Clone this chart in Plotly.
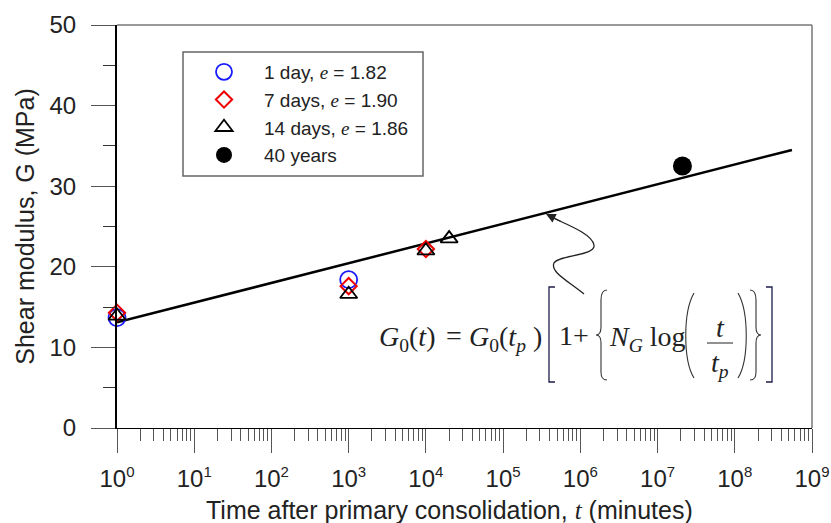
import plotly.graph_objects as go

# ---------------- data ----------------
t_1day = [1, 1000]
G_1day = [13.7, 18.4]
t_7days = [1, 1000, 10000]
G_7days = [14.3, 17.6, 22.2]
t_14days = [1, 1000, 10000, 20000]
G_14days = [13.9, 16.6, 22.0, 23.5]
t_40years = [2.1e7]
G_40years = [32.5]
fit_t = [1, 5.5e8]
fit_G = [13.1, 34.5]

x_exponents = list(range(0, 10))
x_tickvals = [10 ** k for k in x_exponents]
x_ticktext = [f"10<sup><span style='font-size:15px'>{k}</span></sup>" for k in x_exponents]
x_minor = [m * 10 ** k for k in range(0, 9) for m in range(2, 10)]
y_tickvals = [0, 10, 20, 30, 40, 50]

# ---------------- layout helpers (pixel -> paper) ----------------
FW, FH = 831, 523
L, R, T, B = 117, 812, 25, 428
W, H = R - L, B - T


def px(x):
    return (x - L) / W


def py(y):
    return (B - y) / H


def P(x, y):
    return f"{px(x):.5f},{py(y):.5f}"


def path(cmds):
    out = []
    for c in cmds:
        if isinstance(c, str):
            out.append(c)
        else:
            out.append(P(*c))
    return " ".join(out)


serif = "Liberation Serif"
sans = "Liberation Sans"
ital_e = f"<span style=\"font-family:'{serif}'\"><i>e</i></span>"

fig = go.Figure()

fig.add_trace(go.Scatter(x=fit_t, y=fit_G, mode="lines",
                         line=dict(color="black", width=2.5),
                         showlegend=False, hoverinfo="skip", cliponaxis=False))

fig.add_trace(go.Scatter(x=t_1day, y=G_1day, mode="markers",
                         name=f"1 day, {ital_e} = 1.82", legendgroup="a",
                         marker=dict(symbol="circle-open", size=17, color="#1a1aff",
                                     line=dict(width=1.8, color="#1a1aff")),
                         cliponaxis=False))
fig.add_trace(go.Scatter(x=t_7days, y=G_7days, mode="markers",
                         name=f"7 days, {ital_e} = 1.90", legendgroup="b",
                         marker=dict(symbol="diamond-open", size=12.5, color="#ee0000",
                                     line=dict(width=2, color="#ee0000")),
                         cliponaxis=False))
fig.add_trace(go.Scatter(x=t_14days, y=G_14days, mode="markers",
                         name=f"14 days, {ital_e} = 1.86", legendgroup="c",
                         marker=dict(symbol="triangle-up-open", size=15, color="black",
                                     line=dict(width=1.8, color="black")),
                         cliponaxis=False))
fig.add_trace(go.Scatter(x=t_40years, y=G_40years, mode="markers",
                         name="40 years", legendgroup="d",
                         marker=dict(symbol="circle", size=19, color="black"),
                         cliponaxis=False))

shapes = []
# top and right frame
shapes.append(dict(type="line", xref="paper", yref="paper", x0=0, x1=1, y0=1, y1=1,
                   line=dict(color="#777", width=1.5)))
shapes.append(dict(type="line", xref="paper", yref="paper", x0=1, x1=1, y0=0, y1=1,
                   line=dict(color="#777", width=1.5)))
# legend frame
shapes.append(dict(type="rect", xref="paper", yref="paper", x0=px(183), x1=px(423),
                   y0=py(176), y1=py(52), line=dict(color="#666", width=1.5),
                   fillcolor="white", layer="below"))

# wavy arrow shaft
shapes.append(dict(type="path", xref="paper", yref="paper",
                   path=path(["M", (584, 294), "C", (568, 281), (550, 272), (554, 263),
                              "C", (558, 255), (596, 256), (594, 245),
                              "C", (592, 234), (568, 225), (551, 217)]),
                   line=dict(color="#222", width=1.3)))

brk = dict(color="#1c1c4a", width=1.3)
# [ ]
shapes.append(dict(type="path", xref="paper", yref="paper",
                   path=path(["M", (555, 287), "L", (549, 287), "L", (549, 382), "L", (555, 382)]),
                   line=brk))
shapes.append(dict(type="path", xref="paper", yref="paper",
                   path=path(["M", (766, 287), "L", (772, 287), "L", (772, 382), "L", (766, 382)]),
                   line=brk))
# { }
shapes.append(dict(type="path", xref="paper", yref="paper",
                   path=path(["M", (607, 290), "C", (602, 290), (601, 294), (601, 300),
                              "L", (601, 327), "C", (601, 332), (599, 335), (596, 335),
                              "C", (599, 335), (601, 338), (601, 343),
                              "L", (601, 372), "C", (601, 377), (602, 380), (607, 380)]),
                   line=dict(color="#333", width=1.1)))
shapes.append(dict(type="path", xref="paper", yref="paper",
                   path=path(["M", (750, 290), "C", (755, 290), (756, 294), (756, 300),
                              "L", (756, 327), "C", (756, 332), (758, 335), (761, 335),
                              "C", (758, 335), (756, 338), (756, 343),
                              "L", (756, 372), "C", (756, 377), (755, 380), (750, 380)]),
                   line=dict(color="#333", width=1.1)))
# ( )
shapes.append(dict(type="path", xref="paper", yref="paper",
                   path=path(["M", (694, 293), "C", (683, 312), (683, 360), (694, 378)]),
                   line=dict(color="#333", width=1.1)))
shapes.append(dict(type="path", xref="paper", yref="paper",
                   path=path(["M", (738, 293), "C", (749, 312), (749, 360), (738, 378)]),
                   line=dict(color="#333", width=1.1)))
# fraction bar
shapes.append(dict(type="line", xref="paper", yref="paper",
                   x0=px(707), x1=px(733), y0=py(343), y1=py(343),
                   line=dict(color="#222", width=1)))

ff = dict(family=serif, size=28, color="#222")


def txt(x, y, s, anchor="left"):
    return dict(xref="paper", yref="paper", x=px(x), y=py(y), xanchor=anchor,
                yanchor="middle", showarrow=False, font=ff, text=s)


annotations = [
    txt(377, 338, "<i>G</i><sub>0</sub>(<i>t</i>)"),
    txt(444, 335, "="),
    txt(467, 338, "<i>G</i><sub>0</sub>(<i>t</i><sub><i>p</i></sub> )"),
    txt(557, 335, "1+"),
    txt(607, 338, "<i>N</i><sub><i>G</i></sub> log"),
    txt(720, 327, "<i>t</i>", "center"),
    txt(720, 364, "<i>t</i><sub><i>p</i></sub>", "center"),
    dict(xref="paper", yref="paper", x=px(546), y=py(214), text="", showarrow=True,
         ax=16, ay=8, arrowhead=2, arrowsize=1.6, arrowwidth=1.2, arrowcolor="#222"),
    dict(xref="paper", yref="paper", x=px(449), y=py(510), xanchor="center", yanchor="middle",
         showarrow=False, font=dict(family=sans, size=25, color="#222"),
         text=f"Time after primary consolidation, <span style=\"font-family:'{serif}'\"><i>t</i></span> (minutes)"),
]

fig.update_layout(
    template="none",
    width=FW, height=FH,
    margin=dict(l=L, r=FW - R, t=T, b=FH - B, pad=0),
    paper_bgcolor="white", plot_bgcolor="white",
    font=dict(family=sans, color="#222"),
    shapes=shapes, annotations=annotations,
    legend=dict(x=px(184), y=py(53), xanchor="left", yanchor="top",
                borderwidth=0, bgcolor="rgba(0,0,0,0)",
                font=dict(family=sans, size=19, color="#222"),
                itemwidth=70, tracegroupgap=0),
    xaxis=dict(type="log", range=[0, 9], tickvals=x_tickvals, ticktext=x_ticktext,
               automargin=False,
               showgrid=False, zeroline=False, showline=True, linecolor="black", linewidth=1.2,
               ticks="outside", ticklen=24, tickwidth=1.2, tickcolor="#555",
               minor=dict(tickvals=x_minor, ticks="outside", ticklen=12, tickwidth=1,
                          tickcolor="#555", showgrid=False),
               tickfont=dict(family=sans, size=24, color="#222"), ticklabelstandoff=5),
    yaxis=dict(range=[0, 50], tickvals=y_tickvals, automargin=False,
               showgrid=False, zeroline=False, showline=True, linecolor="black", linewidth=2,
               ticks="outside", ticklen=24, tickwidth=1.3, tickcolor="#555",
               minor=dict(dtick=5, ticks="outside", ticklen=12, tickwidth=1.2,
                          tickcolor="#333", showgrid=False),
               tickfont=dict(family=sans, size=24, color="#222"), ticklabelstandoff=10,
               title=dict(text="Shear modulus, G (MPa)",
                          font=dict(family=sans, size=25, color="#222"), standoff=8)),
)

fig.write_html("out.html")
